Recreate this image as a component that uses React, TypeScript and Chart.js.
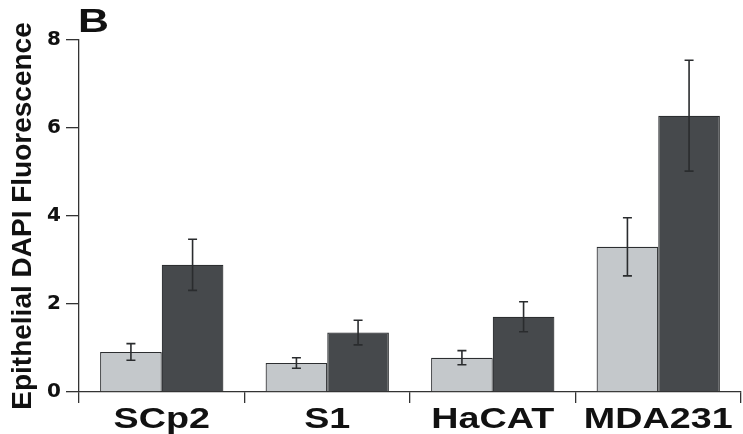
import React, { useEffect, useRef } from "react";
import { Chart, registerables } from "chart.js";

Chart.register(...registerables);

const categories = ["SCp2", "S1", "HaCAT", "MDA231"];
const lightValues = [0.91, 0.66, 0.78, 3.3];
const lightErrors = [0.19, 0.12, 0.16, 0.66];
const darkValues = [2.89, 1.35, 1.71, 6.28];
const darkErrors = [0.58, 0.28, 0.34, 1.26];
const yTicks = [0, 2, 4, 6, 8];
const yTitle = "Epithelial DAPI Fluorescence";
const panelLetter = "B";

const errorsBySeries = [lightErrors, darkErrors];

const errorBarPlugin = {
  id: "errorBars",
  afterDatasetsDraw(chart: any) {
    const ctx = chart.ctx;
    const y = chart.scales.y;
    chart.data.datasets.forEach((ds: any, di: number) => {
      const meta = chart.getDatasetMeta(di);
      meta.data.forEach((el: any, i: number) => {
        const v = ds.data[i];
        const e = errorsBySeries[di][i];
        const top = y.getPixelForValue(v + e);
        const bot = y.getPixelForValue(v - e);
        ctx.save();
        ctx.strokeStyle = "#2a2c2e";
        ctx.lineWidth = 1.6;
        ctx.beginPath();
        ctx.moveTo(el.x, top);
        ctx.lineTo(el.x, bot);
        ctx.moveTo(el.x - 4.5, top);
        ctx.lineTo(el.x + 4.5, top);
        ctx.moveTo(el.x - 4.5, bot);
        ctx.lineTo(el.x + 4.5, bot);
        ctx.stroke();
        ctx.restore();
      });
    });
  },
};

const labelPlugin = {
  id: "stretchedLabels",
  afterDraw(chart: any) {
    const ctx = chart.ctx;
    const xs = chart.scales.x;
    ctx.save();
    ctx.fillStyle = "#111";
    ctx.font = 'bold 29px "Liberation Sans", Arial, sans-serif';
    ctx.textAlign = "center";
    ctx.textBaseline = "alphabetic";
    categories.forEach((c, i) => {
      const px = xs.getPixelForValue(i);
      ctx.save();
      ctx.translate(px, xs.bottom - 6);
      ctx.scale(1.3, 1);
      ctx.fillText(c, 0, 0);
      ctx.restore();
    });
    ctx.font = 'bold 33px "Liberation Sans", Arial, sans-serif';
    ctx.textAlign = "left";
    ctx.translate(chart.chartArea.left - 1, chart.chartArea.top - 8);
    ctx.scale(1.3, 1);
    ctx.fillText(panelLetter, 0, 0);
    ctx.restore();
  },
};

export default function App() {
  const ref = useRef<HTMLCanvasElement>(null);
  useEffect(() => {
    if (!ref.current) return;
    const chart = new Chart(ref.current, {
      type: "bar",
      data: {
        labels: categories,
        datasets: [
          {
            label: "light",
            data: lightValues,
            backgroundColor: "#c4c8cb",
            borderColor: "#2c2e30",
            borderWidth: 1.2,
            categoryPercentage: 0.745,
            barPercentage: 1.0,
          },
          {
            label: "dark",
            data: darkValues,
            backgroundColor: "#46494c",
            borderColor: "#2c2e30",
            borderWidth: 1.2,
            categoryPercentage: 0.745,
            barPercentage: 1.0,
          },
        ],
      },
      options: {
        animation: false,
        responsive: true,
        maintainAspectRatio: false,
        layout: { padding: { top: 40, right: 2, left: 0, bottom: 0 } },
        plugins: {
          legend: { display: false },
          tooltip: { enabled: false },
        },
        scales: {
          x: {
            offset: true,
            grid: {
              offset: true,
              drawOnChartArea: false,
              drawTicks: true,
              tickLength: 11,
              color: "#333",
              lineWidth: 1.3,
            },
            border: { display: true, color: "#333", width: 1.3 },
            ticks: { display: false },
            afterFit(scale: any) {
              scale.height = 42;
            },
          },
          y: {
            min: 0,
            max: 8,
            afterBuildTicks(scale: any) {
              scale.ticks = yTicks.map((v) => ({ value: v }));
            },
            grid: {
              drawOnChartArea: false,
              drawTicks: true,
              tickLength: 13,
              color: "#333",
              lineWidth: 1.3,
            },
            border: { display: true, color: "#333", width: 1.3 },
            ticks: {
              padding: 5,
              color: "#111",
              font: { family: '"DejaVu Sans", sans-serif', weight: "bold", size: 20 },
            },
            title: {
              display: true,
              text: yTitle,
              color: "#111",
              padding: { top: 6, bottom: 0 },
              font: { family: '"Liberation Sans", Arial, sans-serif', weight: "bold", size: 28 },
            },
            afterFit(scale: any) {
              scale.width = 79;
            },
          },
        },
      },
      plugins: [errorBarPlugin, labelPlugin],
    });
    return () => chart.destroy();
  }, []);
  return (
    <div style={{ position: "fixed", left: 0, top: 0, width: 743, height: 434, background: "#fff" }}>
      <canvas ref={ref} />
    </div>
  );
}
